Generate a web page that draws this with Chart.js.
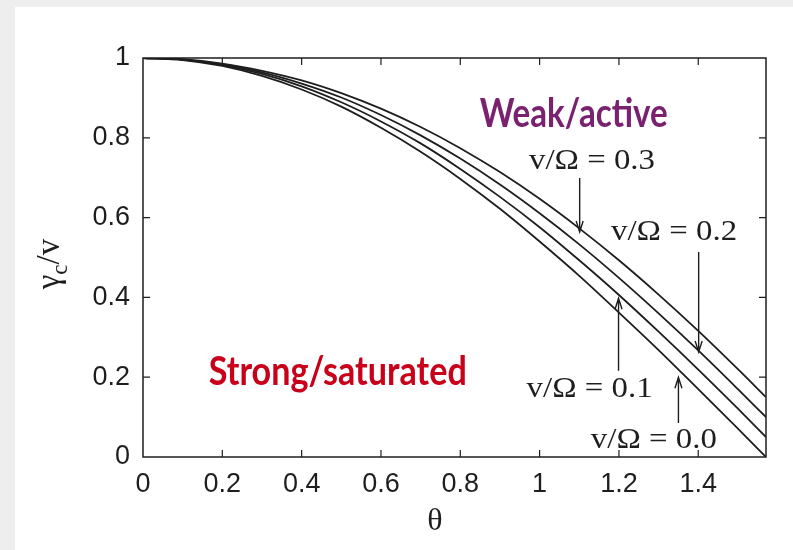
<!DOCTYPE html>
<html>
<head>
<meta charset="utf-8">
<title>gamma_c / v vs theta</title>
<script src="https://cdn.jsdelivr.net/npm/chart.js@4/dist/chart.umd.min.js"></script>
<style>
  html, body { margin: 0; padding: 0; background: #eeeeee; }
  #panel { position: absolute; left: 15px; top: 7px; width: 778px; height: 543px; background: #ffffff; }
  canvas { display: block; }
</style>
</head>
<body>
<div id="panel"><canvas id="gammaChart" width="778" height="543"></canvas></div>
<script>
// angle theta (rad), last point is pi/2
const theta = [0, 0.1, 0.2, 0.3, 0.4, 0.5, 0.6, 0.7, 0.8, 0.9, 1.0, 1.1, 1.2, 1.3, 1.4, 1.5, 1.5708];

// gamma_c / v for each v/Omega
const gamma00 = [1, 0.995, 0.980, 0.955, 0.921, 0.878, 0.825, 0.765, 0.697, 0.622, 0.540, 0.454, 0.362, 0.268, 0.170, 0.071, 0.000];
const gamma01 = [1, 0.996, 0.982, 0.960, 0.929, 0.889, 0.841, 0.786, 0.722, 0.652, 0.576, 0.493, 0.406, 0.314, 0.219, 0.121, 0.050];
const gamma02 = [1, 0.996, 0.984, 0.964, 0.936, 0.901, 0.857, 0.806, 0.748, 0.683, 0.611, 0.533, 0.449, 0.360, 0.267, 0.170, 0.100];
const gamma03 = [1, 0.997, 0.986, 0.968, 0.944, 0.912, 0.873, 0.827, 0.774, 0.714, 0.647, 0.573, 0.493, 0.407, 0.316, 0.220, 0.150];

const seriesNames = ['v/Ω = 0.0', 'v/Ω = 0.1', 'v/Ω = 0.2', 'v/Ω = 0.3'];

const xTicks = [0, 0.2, 0.4, 0.6, 0.8, 1, 1.2, 1.4];
const yTicks = [0, 0.2, 0.4, 0.6, 0.8, 1];

const inkColor = '#1e1e1e';
const tickFont = { family: '"Liberation Sans", Arial, sans-serif', size: 27 };
const serifLabel = '29px "Liberation Serif"';

function toPoints(ys) {
    return theta.map((t, i) => ({ x: t, y: ys[i] }));
}

// 1 -> "1", 0.2 -> "0.2"
function tickText(v) {
    return String(Math.round(v * 10) / 10);
}

// frame, inward ticks, annotations and axis titles
const plotNotes = {
    id: 'plotNotes',
    afterDraw(chart, args, opts) {
        const ctx = chart.ctx;
        const xs = chart.scales.x;
        const ys = chart.scales.y;
        const a = chart.chartArea;

        ctx.save();
        ctx.strokeStyle = inkColor;
        ctx.fillStyle = inkColor;
        ctx.lineWidth = 1.5;
        ctx.strokeRect(a.left, a.top, a.right - a.left, a.bottom - a.top);

        ctx.lineWidth = 1.2;
        ctx.beginPath();
        xTicks.forEach(v => {
            const px = xs.getPixelForValue(v);
            if (px <= a.left + 1) return;
            ctx.moveTo(px, a.bottom); ctx.lineTo(px, a.bottom - 7);
            ctx.moveTo(px, a.top); ctx.lineTo(px, a.top + 7);
        });
        yTicks.forEach(v => {
            const py = ys.getPixelForValue(v);
            if (py <= a.top + 1 || py >= a.bottom - 1) return;
            ctx.moveTo(a.left, py); ctx.lineTo(a.left + 7, py);
            ctx.moveTo(a.right, py); ctx.lineTo(a.right - 7, py);
        });
        ctx.stroke();

        // text labels (x = centre, y = baseline, in data units)
        opts.notes.forEach(n => {
            ctx.font = n.font;
            ctx.fillStyle = n.color;
            ctx.textAlign = 'center';
            ctx.textBaseline = 'alphabetic';
            const px = xs.getPixelForValue(n.x);
            const py = ys.getPixelForValue(n.y);
            const w = ctx.measureText(n.text).width;
            ctx.save();
            ctx.translate(px, py);
            if (n.width) ctx.scale(n.width / w, 1);
            ctx.fillText(n.text, 0, 0);
            ctx.restore();
        });

        // vertical arrows pointing at the curves
        ctx.strokeStyle = inkColor;
        ctx.lineWidth = 1.4;
        opts.arrows.forEach(ar => {
            const px = xs.getPixelForValue(ar.x);
            const p0 = ys.getPixelForValue(ar.from);
            const p1 = ys.getPixelForValue(ar.to);
            const dir = p1 > p0 ? 1 : -1;
            ctx.beginPath();
            ctx.moveTo(px, p0);
            ctx.lineTo(px, p1);
            ctx.moveTo(px - 3.5, p1 - dir * 11);
            ctx.lineTo(px, p1);
            ctx.lineTo(px + 3.5, p1 - dir * 11);
            ctx.stroke();
        });

        // y axis title: gamma_c / v
        ctx.fillStyle = inkColor;
        ctx.translate(opts.yTitle.x, opts.yTitle.y);
        ctx.rotate(-Math.PI / 2);
        ctx.textAlign = 'left';
        ctx.textBaseline = 'alphabetic';
        const big = '33px "Liberation Serif"';
        const small = '23px "Liberation Serif"';
        ctx.font = big;
        const wG = ctx.measureText('γ').width;
        const wS = ctx.measureText('/v').width;
        ctx.font = small;
        const wC = ctx.measureText('c').width;
        let cx = -(wG + wC + wS) / 2;
        ctx.font = big;
        ctx.fillText('γ', cx, 10);
        cx += wG;
        ctx.font = small;
        ctx.fillText('c', cx, 18);
        cx += wC;
        ctx.font = big;
        ctx.fillText('/v', cx, 10);
        ctx.setTransform(1, 0, 0, 1, 0, 0);

        // x axis title
        ctx.font = '32px "Liberation Serif"';
        ctx.textAlign = 'center';
        ctx.fillText('θ', opts.xTitle.x, opts.xTitle.y);
        ctx.restore();
    }
};

document.addEventListener('DOMContentLoaded', function() {
    const allSeries = [gamma00, gamma01, gamma02, gamma03];

    new Chart(document.getElementById('gammaChart'), {
        type: 'line',
        data: {
            datasets: allSeries.map((s, i) => ({
                label: seriesNames[i],
                data: toPoints(s),
                borderColor: inkColor,
                borderWidth: 1.8,
                pointRadius: 0,
                cubicInterpolationMode: 'monotone',
                fill: false
            }))
        },
        options: {
            responsive: false,
            animation: false,
            events: [],
            layout: { padding: { top: 51, right: 27, left: 0, bottom: 0 } },
            plugins: {
                legend: { display: false },
                tooltip: { enabled: false },
                plotNotes: {
                    notes: [
                        { text: 'Weak/active', x: 1.086, y: 0.827, font: 'bold 40px Lato', color: '#7a2170', width: 188 },
                        { text: 'Strong/saturated', x: 0.491, y: 0.180, font: 'bold 40px Lato', color: '#c8001a', width: 258 },
                        { text: 'v/Ω = 0.3', x: 1.132, y: 0.722, font: serifLabel, color: inkColor, width: 126 },
                        { text: 'v/Ω = 0.2', x: 1.339, y: 0.544, font: serifLabel, color: inkColor, width: 126 },
                        { text: 'v/Ω = 0.1', x: 1.126, y: 0.150, font: serifLabel, color: inkColor, width: 126 },
                        { text: 'v/Ω = 0.0', x: 1.288, y: 0.023, font: serifLabel, color: inkColor, width: 126 }
                    ],
                    arrows: [
                        { x: 1.101, from: 0.699, to: 0.564 },
                        { x: 1.401, from: 0.514, to: 0.263 },
                        { x: 1.199, from: 0.216, to: 0.398 },
                        { x: 1.350, from: 0.085, to: 0.200 }
                    ],
                    yTitle: { x: 34, y: 257 },
                    xTitle: { x: 420, y: 523 }
                }
            },
            scales: {
                x: {
                    type: 'linear',
                    min: theta[0],
                    max: theta[theta.length - 1],
                    afterBuildTicks: scale => { scale.ticks = xTicks.map(v => ({ value: v })); },
                    afterFit: scale => { scale.height = 93; },
                    grid: { display: false, drawTicks: false },
                    border: { display: false },
                    ticks: {
                        color: inkColor,
                        padding: 11,
                        maxRotation: 0,
                        font: tickFont,
                        callback: tickText
                    }
                },
                y: {
                    type: 'linear',
                    min: 0,
                    max: 1,
                    afterBuildTicks: scale => { scale.ticks = yTicks.map(v => ({ value: v })); },
                    afterFit: scale => { scale.width = 128; },
                    grid: { display: false, drawTicks: false },
                    border: { display: false },
                    ticks: {
                        color: inkColor,
                        padding: 13,
                        font: tickFont,
                        callback: tickText
                    }
                }
            }
        },
        plugins: [plotNotes]
    });
});
</script>
</body>
</html>
